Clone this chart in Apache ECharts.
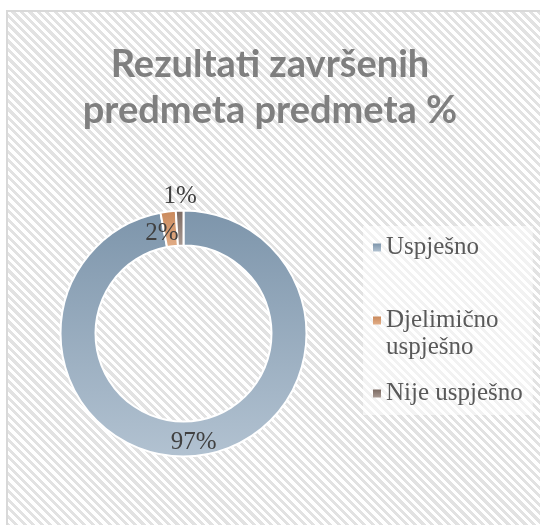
<!DOCTYPE html>
<html>
<head>
<meta charset="utf-8">
<script src="https://cdn.jsdelivr.net/npm/echarts@6/dist/echarts.min.js"></script>
<style>
  html, body { margin: 0; padding: 0; background: #fff; }
  .frame {
    position: absolute; left: 6px; top: 10px; width: 560px; height: 540px;
    border: 2px solid #d9d9d9; box-sizing: border-box;
    background: repeating-linear-gradient(45deg, #ffffff 0 3px, #e2e2e2 3px 6px);
  }
  #chart { position: absolute; left: 0; top: 0; width: 540px; height: 525px; }
</style>
</head>
<body>
<div class="frame"></div>
<div id="chart"></div>
<script>
const titleText = 'Rezultati završenih\npredmeta predmeta %';
const categories = ['Uspješno', 'Djelimično uspješno', 'Nije uspješno'];
// a leading blank line keeps the first line level with the legend icon
const legendLabels = ['Uspješno', '\nDjelimično\nuspješno', 'Nije uspješno'];
const values = [97, 2, 1];
const sliceColors = [
  ['#7d95ab', '#b2c2d1'],
  ['#c9885a', '#e2ae88'],
  ['#7b6a62', '#a99a93'],
];
// label nudges to match the original placement
const labelShift = [[0, 1], [-8, 8], [0, -29]];

const grad = (c) => new echarts.graphic.LinearGradient(0, 0, 0, 1, [
  { offset: 0, color: c[0] },
  { offset: 1, color: c[1] },
]);

const chart = echarts.init(document.getElementById('chart'));
chart.setOption({
  backgroundColor: 'transparent',
  animation: false,
  title: {
    text: titleText,
    left: 'center',
    top: 37,
    textStyle: {
      fontFamily: 'Lato',
      fontWeight: 'bold',
      fontSize: 38,
      lineHeight: 46,
      color: '#7f7f7f',
    },
  },
  legend: {
    orient: 'vertical',
    left: 363,
    top: 226,
    padding: [8, 10],
    itemWidth: 8,
    itemHeight: 8,
    itemGap: 19,
    icon: 'rect',
    itemStyle: { borderWidth: 0 },
    backgroundColor: 'rgba(255,255,255,0.55)',
    formatter: (name) => legendLabels[categories.indexOf(name)],
    textStyle: {
      fontFamily: 'Liberation Serif',
      fontSize: 25,
      lineHeight: 27,
      color: '#595959',
    },
    data: categories,
  },
  series: [
    {
      type: 'pie',
      center: [183.5, 333.5],
      radius: [88, 123],
      startAngle: 90,
      clockwise: true,
      avoidLabelOverlap: false,
      itemStyle: { borderColor: '#ffffff', borderWidth: 2 },
      label: {
        show: true,
        position: 'inside',
        formatter: '{c}%',
        fontFamily: 'Liberation Serif',
        fontSize: 25,
        color: '#404040',
      },
      labelLine: { show: false },
      labelLayout: (p) => ({ dx: labelShift[p.dataIndex][0], dy: labelShift[p.dataIndex][1] }),
      emphasis: { disabled: true },
      data: categories.map((name, i) => ({
        name,
        value: values[i],
        itemStyle: { color: grad(sliceColors[i]) },
      })),
    },
  ],
});
</script>
</body>
</html>
